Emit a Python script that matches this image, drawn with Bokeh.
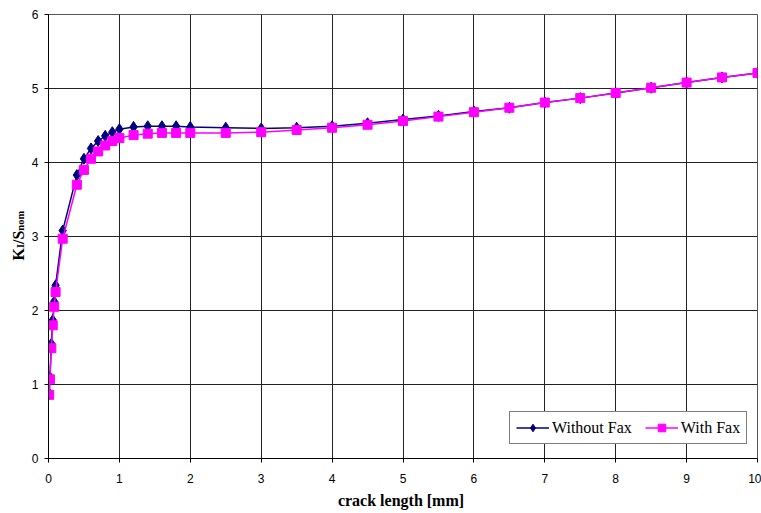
import math
from bokeh.plotting import figure
from bokeh.layouts import row
from bokeh.models import Range1d, Legend, LegendItem, FixedTicker
from bokeh.core.properties import value
from bokeh.embed import file_html
from bokeh.resources import INLINE

# data
crack_length = [0.01, 0.02, 0.04, 0.06, 0.08, 0.1, 0.2, 0.4, 0.5, 0.6, 0.7, 0.8, 0.9, 1.0,
                1.2, 1.4, 1.6, 1.8, 2.0, 2.5, 3.0, 3.5, 4.0, 4.5, 5.0, 5.5, 6.0, 6.5,
                7.0, 7.5, 8.0, 8.5, 9.0, 9.5, 10.0]
without_fax = [0.88, 1.10, 1.55, 1.87, 2.12, 2.34, 3.08, 3.83, 4.05, 4.19, 4.29, 4.36, 4.41, 4.45,
               4.48, 4.49, 4.49, 4.49, 4.48, 4.47, 4.46, 4.47, 4.49, 4.53, 4.58, 4.63, 4.69, 4.74,
               4.81, 4.87, 4.94, 5.01, 5.08, 5.15, 5.21]
with_fax = [0.86, 1.07, 1.49, 1.80, 2.05, 2.25, 2.97, 3.70, 3.90, 4.05, 4.15, 4.23, 4.29, 4.33,
            4.37, 4.39, 4.40, 4.40, 4.40, 4.40, 4.41, 4.44, 4.47, 4.51, 4.56, 4.62, 4.68, 4.74,
            4.81, 4.87, 4.94, 5.01, 5.08, 5.15, 5.21]
x_ticks = list(range(0, 11))
y_ticks = list(range(0, 7))
y_title_parts = ["K", "I", "/S", "nom"]

W, H = 761, 513
LW = 28            # width of the strip holding the y-axis title
FRAME_TOP, FRAME_BOTTOM = 14, 458   # page pixels of the plot frame

# ---- strip with the y axis title (K_I/S_nom, rotated) ----
# its frame is aligned with the main frame; y range = page pixels measured from bottom
t = figure(width=LW, height=H, output_backend="svg", toolbar_location=None,
           x_range=Range1d(0, LW), y_range=Range1d(H - FRAME_BOTTOM, H - FRAME_TOP), title=None,
           x_axis_location=None, y_axis_location=None,
           min_border=0, min_border_left=0, min_border_right=0,
           min_border_top=FRAME_TOP, min_border_bottom=H - FRAME_BOTTOM)
t.outline_line_color = None
t.grid.visible = False
t.background_fill_color = "white"
t.border_fill_color = "white"

sizes = [16, 10.5, 16, 10.5]
advances = [12.4, 4.1, 13.3, 19.8]
baseline_x = 23
yb = H - 260
for txt, fs, adv in zip(y_title_parts, sizes, advances):
    t.text(x=[baseline_x - 0.3 * fs], y=[yb], text=[txt], angle=math.pi / 2,
           text_font=value("Liberation Serif"), text_font_style="bold",
           text_font_size=value(f"{fs}px"), text_color="black",
           text_align="left", text_baseline="middle")
    yb += adv

# ---- main chart ----
p = figure(width=W - LW, height=H, output_backend="svg", toolbar_location=None,
           x_range=Range1d(0, 10), y_range=Range1d(0, 6),
           min_border_left=48 - LW, min_border_right=4,
           min_border_top=FRAME_TOP, min_border_bottom=H - FRAME_BOTTOM)
p.background_fill_color = "white"
p.border_fill_color = "white"
p.outline_line_color = "#555555"
p.outline_line_width = 1

for ax, ticks in ((p.xaxis[0], x_ticks), (p.yaxis[0], y_ticks)):
    ax.ticker = FixedTicker(ticks=ticks)
    ax.minor_tick_line_color = None
    ax.major_tick_in = 0
    ax.major_tick_out = 4
    ax.axis_line_color = "black"
    ax.major_tick_line_color = "black"
    ax.major_label_text_font = "Liberation Sans"
    ax.major_label_text_font_size = "12px"
    ax.major_label_text_color = "black"
p.yaxis.major_label_standoff = 6
p.xaxis.major_label_standoff = 11

p.xaxis.axis_label = "crack length  [mm]"
p.xaxis.axis_label_text_font = "Liberation Serif"
p.xaxis.axis_label_text_font_style = "bold"
p.xaxis.axis_label_text_font_size = "16px"
p.xaxis.axis_label_text_color = "black"
p.xaxis.axis_label_standoff = 6

p.xgrid.ticker = FixedTicker(ticks=x_ticks)
p.ygrid.ticker = FixedTicker(ticks=y_ticks)
for g in (p.xgrid[0], p.ygrid[0]):
    g.grid_line_color = "#222222"
    g.grid_line_width = 1

r1 = p.line(crack_length, without_fax, line_color="#000080", line_width=1.5)
m1 = p.scatter(crack_length, without_fax, marker="diamond", size=11,
               fill_color="#000080", line_color="#000080")
r2 = p.line(crack_length, with_fax, line_color="#FF00FF", line_width=1.5)
m2 = p.scatter(crack_length, with_fax, marker="square", size=9,
               fill_color="#FF00FF", line_color="#FF00FF")

legend = Legend(items=[LegendItem(label="Without Fax", renderers=[r1, m1]),
                       LegendItem(label="With Fax", renderers=[r2, m2])],
                orientation="horizontal", location=(461, 14))
legend.label_text_font = "Liberation Serif"
legend.label_text_font_size = "16px"
legend.label_text_color = "black"
legend.border_line_color = "black"
legend.border_line_width = 1
legend.background_fill_color = "white"
legend.background_fill_alpha = 1
legend.glyph_width = 33
legend.glyph_height = 19
legend.spacing = 13
legend.padding = 6
legend.margin = 0
legend.label_standoff = 3
p.add_layout(legend, "center")

layout = row(t, p, spacing=0)
open("out.html", "w").write(file_html(layout, INLINE))
